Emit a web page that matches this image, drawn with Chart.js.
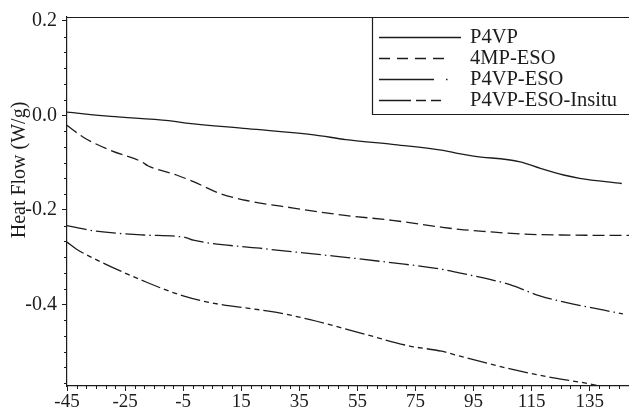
<!DOCTYPE html>
<html>
<head>
<meta charset="utf-8">
<script src="https://cdn.jsdelivr.net/npm/chart.js@4/dist/chart.umd.min.js"></script>
<style>
  html, body { margin: 0; padding: 0; background: #fff; }
  canvas { display: block; }
</style>
</head>
<body>
<canvas id="c" width="629" height="410"></canvas>
<script>
// Temperature (°C) / heat flow (W/g) traces
const seriesNames = ['P4VP', '4MP-ESO', 'P4VP-ESO', 'P4VP-ESO-Insitu'];

const p4vpT = [-45, -30, -10, -4, 17, 40, 51, 67, 84.5, 90, 95, 111, 118, 126, 131.5, 146];
const p4vpHF = [0.007, -0.002, -0.011, -0.016, -0.028, -0.041, -0.051, -0.061, -0.074, -0.081, -0.086, -0.098, -0.112, -0.126, -0.133, -0.144];

const mpEsoT = [-45, -39.4, -30, -19.3, -17, -7.3, -1.5, 7.6, 16.8, 33, 50, 67, 83.4, 90, 100, 112, 125, 148.5];
const mpEsoHF = [-0.021, -0.046, -0.074, -0.098, -0.107, -0.126, -0.140, -0.165, -0.180, -0.196, -0.211, -0.222, -0.236, -0.241, -0.246, -0.251, -0.253, -0.254];

const p4vpEsoT = [-45, -36, -18.7, -4.4, -1.5, 21.4, 44.4, 67.3, 84.5, 90, 100.6, 107.5, 117.8, 127, 146.4];
const p4vpEsoHF = [-0.233, -0.244, -0.253, -0.258, -0.264, -0.281, -0.296, -0.312, -0.326, -0.333, -0.347, -0.358, -0.382, -0.396, -0.420];

const insituT = [-45, -41.7, -36, -17.6, -5, 4.2, 27.2, 38.7, 55.8, 73, 84, 90, 108, 122, 135, 138];
const insituHF = [-0.268, -0.283, -0.302, -0.353, -0.382, -0.396, -0.417, -0.432, -0.460, -0.488, -0.499, -0.509, -0.537, -0.555, -0.568, -0.572];

const xTicks = [-45, -25, -5, 15, 35, 55, 75, 95, 115, 135];
const yTicks = [-0.4, -0.2, 0.0, 0.2];
const yTitle = 'Heat Flow (W/g)';

const INK = '#1c1c1c';
const FONT = 'Liberation Serif';
const X_MIN = -45, X_MAX = 148.5, Y_MIN = -0.5726, Y_MAX = 0.2084;

const pts = (xs, ys) => xs.map((x, i) => ({ x: x, y: ys[i] }));

const dashStyles = [[], [12, 5], [20, 4, 1.5, 4], [20, 4, 5, 4, 5, 4]];

const datasets = [
  pts(p4vpT, p4vpHF), pts(mpEsoT, mpEsoHF), pts(p4vpEsoT, p4vpEsoHF), pts(insituT, insituHF)
].map((d, i) => ({
  label: seriesNames[i],
  data: d,
  borderColor: INK,
  borderWidth: 1.3,
  borderDash: dashStyles[i],
  pointRadius: 0,
  fill: false,
  cubicInterpolationMode: 'monotone'
}));

// minor tick marks, top frame line, rotated y title and boxed legend
const decorations = {
  id: 'decorations',
  afterDraw(chart) {
    const ctx = chart.ctx;
    const a = chart.chartArea;
    const xs = chart.scales.x, ys = chart.scales.y;
    ctx.save();
    ctx.strokeStyle = INK;
    ctx.lineWidth = 1;
    // minor ticks: six intervals per major step
    ctx.beginPath();
    for (let k = 0; ; k++) {
      const v = X_MIN + k * 20 / 6;
      if (v > X_MAX + 1e-9) break;
      if (k % 6 === 0) continue;
      const px = Math.round(xs.getPixelForValue(v)) + 0.5;
      ctx.moveTo(px, a.bottom);
      ctx.lineTo(px, a.bottom + 3);
    }
    for (let k = -18; k <= 6; k++) {
      const v = k * 0.2 / 6;
      if (v < Y_MIN || v > Y_MAX) continue;
      if (k % 6 === 0) continue;
      const py = Math.round(ys.getPixelForValue(v)) + 0.5;
      ctx.moveTo(a.left, py);
      ctx.lineTo(a.left - 3, py);
    }
    ctx.stroke();
    // top frame line
    ctx.lineWidth = 1.2;
    ctx.beginPath();
    ctx.moveTo(a.left, a.top + 0.5);
    ctx.lineTo(chart.width, a.top + 0.5);
    ctx.stroke();

    // y title
    ctx.fillStyle = INK;
    ctx.font = '20px "' + FONT + '"';
    ctx.textAlign = 'center';
    ctx.textBaseline = 'middle';
    ctx.translate(20, 170);
    ctx.rotate(-Math.PI / 2);
    ctx.fillText(yTitle, 0, 0);
    ctx.setTransform(1, 0, 0, 1, 0, 0);

    // legend box
    const bx = 372, by = a.top, bh = 97;
    ctx.fillStyle = '#fff';
    ctx.fillRect(bx, by, chart.width - bx, bh);
    ctx.lineWidth = 1.2;
    ctx.strokeStyle = INK;
    ctx.beginPath();
    ctx.moveTo(chart.width + 2, by + 0.5);
    ctx.lineTo(bx + 0.5, by + 0.5);
    ctx.lineTo(bx + 0.5, by + bh + 0.5);
    ctx.lineTo(chart.width + 2, by + bh + 0.5);
    ctx.stroke();

    const sx0 = 379;
    const samples = [
      [[0, 82]],
      [[0, 11], [18, 29], [36, 47], [54, 65]],
      [[0, 55], [67, 68.5]],
      [[0, 32], [37, 47], [52, 62]]
    ];
    ctx.font = '20.5px "' + FONT + '"';
    ctx.textAlign = 'left';
    ctx.textBaseline = 'middle';
    chart.data.datasets.forEach((ds, i) => {
      const ry = by + 20 + i * 21;
      ctx.lineWidth = 1.3;
      ctx.strokeStyle = ds.borderColor;
      ctx.beginPath();
      samples[i].forEach(s => {
        ctx.moveTo(sx0 + s[0], ry + 0.5);
        ctx.lineTo(sx0 + s[1], ry + 0.5);
      });
      ctx.stroke();
      ctx.fillStyle = INK;
      ctx.fillText(ds.label, 470, ry + 1);
    });
    ctx.restore();
  }
};

new Chart(document.getElementById('c'), {
  type: 'line',
  data: { datasets: datasets },
  options: {
    responsive: false,
    animation: false,
    layout: { padding: { top: 16, right: 0, left: 0, bottom: 0 } },
    plugins: { legend: { display: false }, tooltip: { enabled: false } },
    scales: {
      x: {
        type: 'linear',
        min: X_MIN,
        max: X_MAX,
        afterBuildTicks: s => { s.ticks = xTicks.map(v => ({ value: v })); },
        afterFit: s => { s.height = 24; },
        ticks: {
          autoSkip: false,
          maxRotation: 0,
          padding: 0,
          color: INK,
          font: { family: FONT, size: 19 },
          callback: v => String(v)
        },
        grid: { drawOnChartArea: false, drawTicks: true, tickLength: 5, color: INK, lineWidth: 1 },
        border: { display: true, color: INK, width: 1.2 }
      },
      y: {
        type: 'linear',
        min: Y_MIN,
        max: Y_MAX,
        afterBuildTicks: s => { s.ticks = yTicks.map(v => ({ value: v })); },
        afterFit: s => { s.width = 67; },
        ticks: {
          padding: 5,
          color: INK,
          font: { family: FONT, size: 20 },
          callback: v => v.toFixed(1)
        },
        grid: { drawOnChartArea: false, drawTicks: true, tickLength: 5, color: INK, lineWidth: 1 },
        border: { display: true, color: INK, width: 1.2 }
      }
    }
  },
  plugins: [decorations]
});
</script>
</body>
</html>
